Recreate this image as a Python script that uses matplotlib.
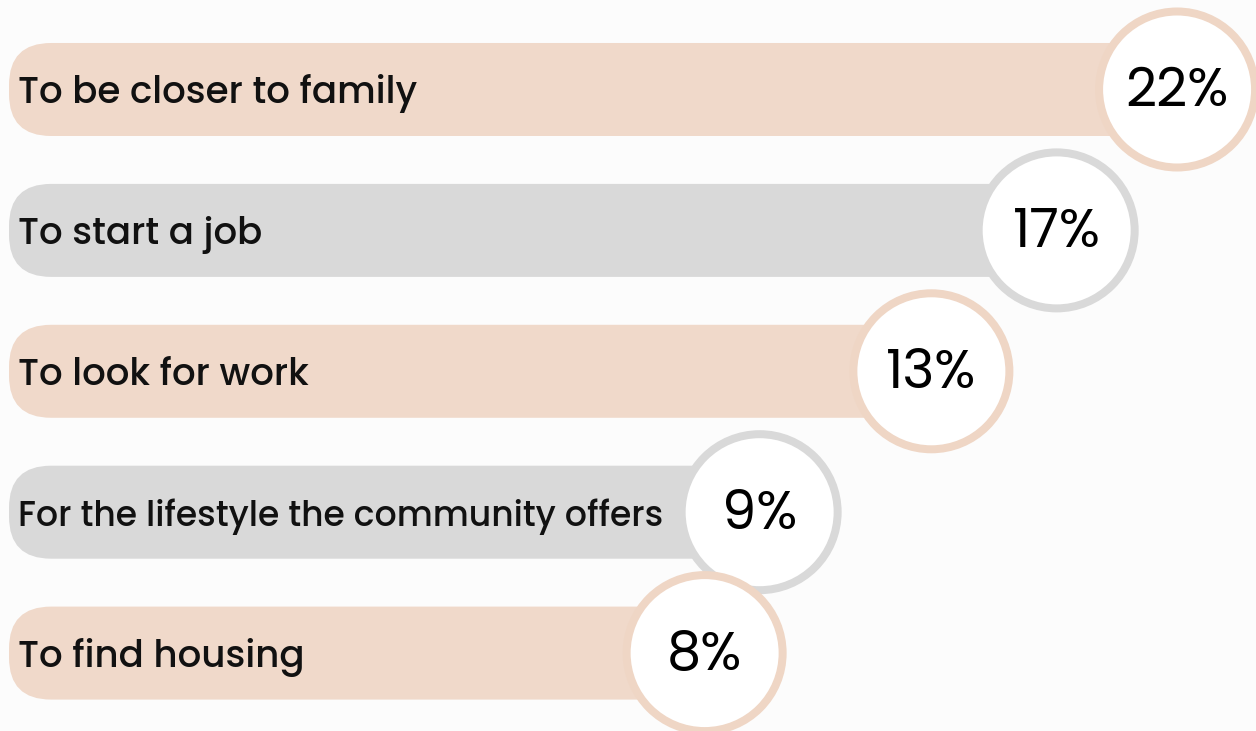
import numpy as np
import matplotlib
matplotlib.use("Agg")
import matplotlib.pyplot as plt
from matplotlib.patches import FancyBboxPatch, Circle

# Reasons for moving to the community (share of respondents, %)
reasons = [
    "To be closer to family",
    "To start a job",
    "To look for work",
    "For the lifestyle the community offers",
    "To find housing",
]
shares = [22, 17, 13, 9, 8]
share_labels = ["22%", "17%", "13%", "9%", "8%"]

PEACH_BAR = "#f0d9ca"
PEACH_RING = "#efd6c5"
GREY_BAR = "#d9d9d9"
GREY_RING = "#d9d9d9"
bar_colors = [PEACH_BAR, GREY_BAR, PEACH_BAR, GREY_BAR, PEACH_BAR]
ring_colors = [PEACH_RING, GREY_RING, PEACH_RING, GREY_RING, PEACH_RING]

W, H = 1256, 731
fig = plt.figure(figsize=(W / 100, H / 100), dpi=100, facecolor="#fcfcfc")

# value axis (log scale) that positions the end of every bar
ax = fig.add_axes([0, 0, 1, 1])
ax.set_xscale("log")
ax.set_xlim(1.7695, 26.05)
ax.set_ylim(4.553, -0.6352)
ax.axis("off")

# pixel-space layer for rounded bars and round badges
ov = fig.add_axes([0, 0, 1, 1])
ov.set_xlim(0, W)
ov.set_ylim(0, H)
ov.axis("off")

font = ["Poppins", "Inter", "DejaVu Sans"]
bar_left = 9
bar_h = 93
radius = 78
ring_w = 8 * 72 / 100
label_size = 26.8
text_x = 18
gap = 15

renderer = fig.canvas.get_renderer()

for i, (name, val, lab) in enumerate(zip(reasons, shares, share_labels)):
    cx, cy = ax.transData.transform((val, i))
    bar = FancyBboxPatch((bar_left, cy - bar_h / 2), cx - bar_left, bar_h,
                         boxstyle="round,pad=0,rounding_size=42",
                         facecolor=bar_colors[i], edgecolor="none", zorder=1)
    ov.add_patch(bar)
    ov.add_patch(Circle((cx, cy), radius, facecolor="white",
                        edgecolor=ring_colors[i], linewidth=ring_w, zorder=3))
    t = ov.text(text_x, cy - 13.5, name, fontsize=label_size, fontweight="medium",
                family=font, ha="left", va="baseline", color="#111111", zorder=4)
    # shrink a label that would run into its badge
    room = (cx - radius - 4) - gap - text_x
    width = t.get_window_extent(renderer).width
    if width > room:
        t.set_fontsize(label_size * room / width)
    ov.text(cx, cy - 16.5, lab, fontsize=39, fontweight="normal",
            family=font, ha="center", va="baseline", color="#000000", zorder=4)

fig.savefig("out.png", dpi=100, facecolor=fig.get_facecolor())
